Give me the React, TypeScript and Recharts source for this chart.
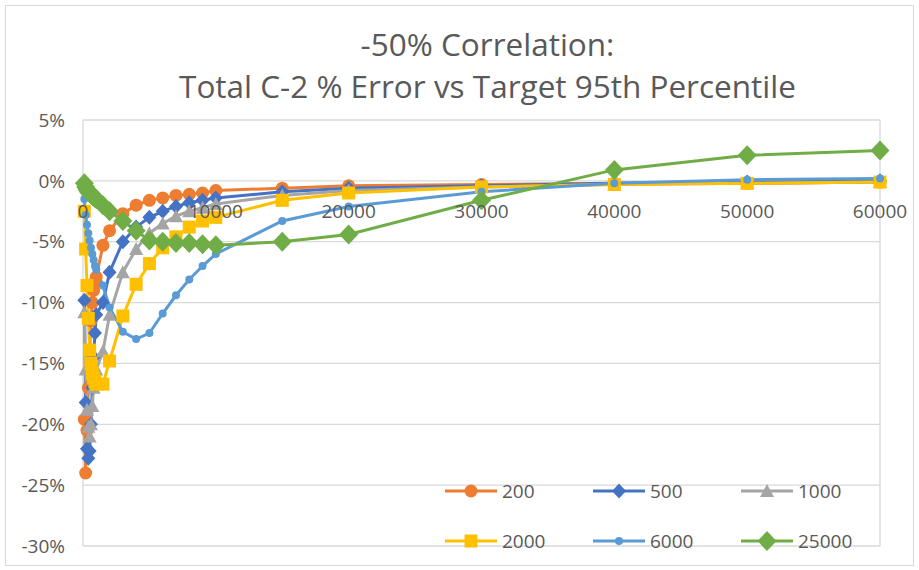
import { CartesianGrid, Line, LineChart, ReferenceDot, XAxis, YAxis } from 'recharts';

// target 95th percentile values (x)
const X_VALUES = [
  100, 200, 300, 400, 500, 600, 700, 800, 900, 1000, 1500, 2000, 3000, 4000, 5000, 6000, 7000, 8000,
  9000, 10000, 15000, 20000, 30000, 40000, 50000, 60000,
];

// % error per series
const S200 = [
  -19.6, -24.0, -20.5, -17.0, -14.0, -11.5, -10.0, -9.0, -8.3, -7.9, -5.3, -4.1, -2.7, -2.0, -1.6, -1.4,
  -1.2, -1.1, -1.0, -0.8, -0.6, -0.4, -0.3, -0.2, -0.2, -0.1,
];
const S500 = [
  -9.8, -18.2, -22.0, -22.8, -22.2, -20.0, -17.0, -14.5, -12.5, -11.0, -10.0, -7.5, -5.0, -3.8, -3.0,
  -2.5, -2.1, -1.8, -1.6, -1.4, -0.9, -0.6, -0.4, -0.2, -0.1, 0.0,
];
const S1000 = [
  -10.8, -15.5, -18.8, -20.2, -21.0, -20.0, -18.5, -17.0, -16.0, -15.5, -14.0, -11.0, -7.5, -5.6, -4.3,
  -3.5, -2.9, -2.5, -2.2, -1.9, -1.2, -0.8, -0.5, -0.3, -0.2, -0.1,
];
const S2000 = [
  -2.5, -5.6, -8.6, -11.3, -13.9, -15.0, -15.8, -16.2, -16.5, -16.7, -16.7, -14.8, -11.1, -8.5, -6.8,
  -5.5, -4.6, -3.8, -3.3, -3.0, -1.6, -1.0, -0.5, -0.3, -0.2, -0.1,
];
const S6000 = [
  -1.5, -2.8, -3.6, -4.3, -4.9, -5.5, -6.0, -6.5, -7.0, -7.3, -8.6, -10.4, -12.4, -13.0, -12.5, -10.9,
  -9.4, -8.1, -7.0, -6.0, -3.3, -2.1, -0.9, -0.2, 0.1, 0.2,
];
const S25000 = [
  -0.2, -0.5, -0.7, -0.9, -1.0, -1.1, -1.2, -1.3, -1.4, -1.5, -2.0, -2.5, -3.3, -4.1, -4.9, -5.0, -5.1,
  -5.1, -5.2, -5.3, -5.0, -4.4, -1.6, 0.9, 2.1, 2.5,
];

const X_TICKS = [0, 10000, 20000, 30000, 40000, 50000, 60000];
const Y_TICKS = [-30, -25, -20, -15, -10, -5, 0, 5];

const data = X_VALUES.map((x, i) => ({
  x,
  s200: S200[i],
  s500: S500[i],
  s1000: S1000[i],
  s2000: S2000[i],
  s6000: S6000[i],
  s25000: S25000[i],
}));

type Shape = 'circle' | 'diamond' | 'triangle' | 'square' | 'dot' | 'bigDiamond';

const SERIES: { key: string; name: string; color: string; shape: Shape }[] = [
  { key: 's200', name: '200', color: '#ED7D31', shape: 'circle' },
  { key: 's500', name: '500', color: '#4472C4', shape: 'diamond' },
  { key: 's1000', name: '1000', color: '#A5A5A5', shape: 'triangle' },
  { key: 's2000', name: '2000', color: '#FFC000', shape: 'square' },
  { key: 's6000', name: '6000', color: '#5B9BD5', shape: 'dot' },
  { key: 's25000', name: '25000', color: '#70AD47', shape: 'bigDiamond' },
];

const FONT = '"Open Sans", sans-serif';
const TEXT = '#595959';

function Marker({ cx, cy, shape, color }: { cx: number; cy: number; shape: Shape; color: string }) {
  if (cx == null || cy == null) return null;
  switch (shape) {
    case 'circle':
      return <circle cx={cx} cy={cy} r={6.5} fill={color} />;
    case 'dot':
      return <circle cx={cx} cy={cy} r={4} fill={color} />;
    case 'square':
      return <rect x={cx - 6.5} y={cy - 6.5} width={13} height={13} fill={color} />;
    case 'triangle':
      return <path d={`M${cx},${cy - 7} L${cx + 7},${cy + 6} L${cx - 7},${cy + 6} Z`} fill={color} />;
    case 'diamond':
      return <path d={`M${cx},${cy - 7.5} L${cx + 7},${cy} L${cx},${cy + 7.5} L${cx - 7},${cy} Z`} fill={color} />;
    case 'bigDiamond':
      return <path d={`M${cx},${cy - 10} L${cx + 9.5},${cy} L${cx},${cy + 10} L${cx - 9.5},${cy} Z`} fill={color} />;
  }
  return null;
}

function LegendBox() {
  return (
    <div
      style={{
        display: 'grid',
        gridTemplateColumns: 'repeat(3, 148px)',
        gridAutoRows: '50px',
        fontFamily: FONT,
        fontSize: 19,
        color: TEXT,
      }}
    >
      {SERIES.map((s) => (
        <div key={s.key} style={{ display: 'flex', alignItems: 'center', height: 50 }}>
          <svg width={56} height={24} style={{ display: 'block' }}>
            <line x1={1} y1={12} x2={53} y2={12} stroke={s.color} strokeWidth={3} />
            <Marker cx={27} cy={12} shape={s.shape} color={s.color} />
          </svg>
          <span style={{ marginLeft: 2 }}>{s.name}</span>
        </div>
      ))}
    </div>
  );
}

export default function App() {
  return (
    <div style={{ position: 'absolute', left: 0, top: 0, width: 919, height: 570, background: '#fff' }}>
      <div
        style={{
          position: 'absolute',
          left: 5,
          top: 5,
          width: 907,
          height: 559,
          border: '1px solid #d9d9d9',
        }}
      />
      <div
        style={{
          position: 'absolute',
          left: 28,
          top: 23,
          width: 919,
          textAlign: 'center',
          fontFamily: FONT,
          fontSize: 31.5,
          lineHeight: '42px',
          color: TEXT,
        }}
      >
        <div>-50% Correlation:</div>
        <div>Total C-2 % Error vs Target 95th Percentile</div>
      </div>
      <div style={{ position: 'absolute', left: 0, top: 0 }}>
        <LineChart
          width={919}
          height={570}
          data={data}
          margin={{ top: 120, right: 39, bottom: 24, left: 5 }}
        >
          <CartesianGrid stroke="#d9d9d9" strokeWidth={1.3} />
          <XAxis
            type="number"
            dataKey="x"
            domain={[0, 60000]}
            ticks={X_TICKS}
            tick={false}
            tickLine={false}
            axisLine={false}
            height={0}
          />
          <YAxis
            type="number"
            domain={[-30, 5]}
            ticks={Y_TICKS}
            tickFormatter={(v: number) => `${v}%`}
            tickLine={false}
            axisLine={false}
            width={78}
            tickMargin={12}
            tick={{ fill: TEXT, fontSize: 19, fontFamily: FONT }}
          />
          {X_TICKS.map((t) => (
            <ReferenceDot
              key={t}
              x={t}
              y={0}
              r={0}
              fill="none"
              stroke="none"
              label={{ value: String(t), position: 'bottom', offset: 24, fill: TEXT, fontSize: 19, fontFamily: FONT }}
            />
          ))}
          {SERIES.map((s) => (
            <Line
              key={s.key}
              type="linear"
              dataKey={s.key}
              name={s.name}
              stroke={s.color}
              strokeWidth={3}
              isAnimationActive={false}
              activeDot={false}
              dot={(p: any) => (
                <Marker key={`${s.key}-${p.index}`} cx={p.cx} cy={p.cy} shape={s.shape} color={s.color} />
              )}
            />
          ))}
        </LineChart>
      </div>
      <div style={{ position: 'absolute', left: 444, top: 466, width: 450 }}>
        <LegendBox />
      </div>
    </div>
  );
}
